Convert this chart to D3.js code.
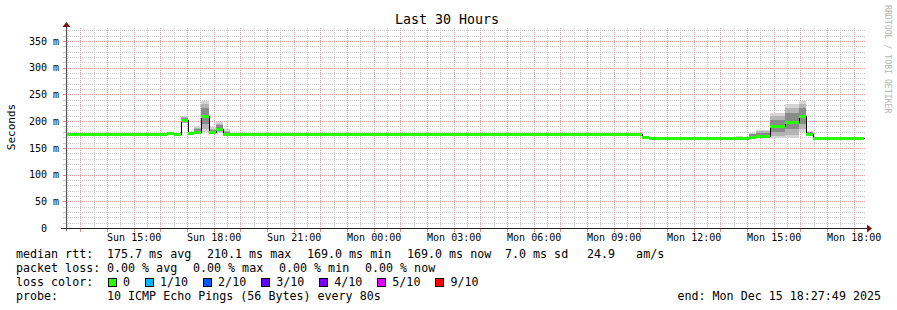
<!DOCTYPE html>
<html>
<head>
<meta charset="utf-8">
<script src="https://cdn.jsdelivr.net/npm/d3@7"></script>
<style>
  body { margin: 0; background: #fff; }
  svg text { font-family: "DejaVu Sans Mono", monospace; white-space: pre; }
</style>
</head>
<body>
<div id="chart"></div>
<script>
// interval boundaries (local time), each value holds until the next boundary
const times = [
  '2025-12-14T12:28', '2025-12-14T14:38', '2025-12-14T14:54', '2025-12-14T15:10',
  '2025-12-14T15:26', '2025-12-14T16:15', '2025-12-14T16:31', '2025-12-14T16:47',
  '2025-12-14T17:02', '2025-12-14T17:16', '2025-12-14T17:32', '2025-12-14T17:50',
  '2025-12-14T18:05', '2025-12-14T18:21', '2025-12-14T18:37', '2025-12-15T00:12',
  '2025-12-15T00:28', '2025-12-15T10:04', '2025-12-15T10:20', '2025-12-15T13:35',
  '2025-12-15T13:51', '2025-12-15T14:05', '2025-12-15T14:20', '2025-12-15T14:52',
  '2025-12-15T15:26', '2025-12-15T15:57', '2025-12-15T16:13', '2025-12-15T16:29',
  '2025-12-15T18:23'
]
// median rtt in ms
const median = [175, 175, 175, 175, 175, 178, 175, 202, 177.5, 180, 209.7, 179, 185, 176.6,
  175, 175, 175, 171, 169, 169, 169, 171, 172, 191, 199, 209.7, 176.6, 169]
// smoke (min..max of the pings) in ms
const smokeLow = [null, 175, null, 175, null, 176, null, 196, 175, 176, 180, 176, 178, 175,
  null, 175, null, null, null, 169, null, 169, 168, 168, 168, 179, 175, null]
const smokeHigh = [null, 177.5, null, 177.5, null, 179, null, 210, 181, 191, 238, 189, 198, 185,
  null, 177.5, null, null, null, 172, null, 178, 183.5, 216, 232, 238, 181.6, null]
// middle and inner parts of the smoke
const midLow = [null, null, null, null, null, null, null, 197, 175.5, 177, 186, 176.5, 179, 175,
  null, null, null, null, null, null, null, 169.5, 169, 172, 174, 186, 175.5, null]
const midHigh = [null, null, null, null, null, null, null, 208, 180, 188, 232, 186, 195, 182,
  null, null, null, null, null, null, null, 176, 181, 209, 224, 232, 180.5, null]
const innerLow = [null, null, null, null, null, null, null, 199, 176, 178, 195, 177, 181, 175,
  null, null, null, null, null, null, null, 170, 170, 180, 185, 195, 176, null]
const innerHigh = [null, null, null, null, null, null, null, 206, 179, 186, 225, 184, 192, 180,
  null, null, null, null, null, null, null, 175, 178, 202, 215, 225, 179, null]

const yTicks = [0, 50, 100, 150, 200, 250, 300, 350]
const medianStats = ['175.7 ms avg', '210.1 ms max', '169.0 ms min', '169.0 ms now', '7.0 ms sd', '24.9   am/s']
const lossStats = ['0.00 % avg', '0.00 % max', '0.00 % min', '0.00 % now']
const lossLabels = ['0', '1/10', '2/10', '3/10', '4/10', '5/10', '9/10']
const lossColors = ['#26ff00', '#00b8ff', '#0059ff', '#5e00ff', '#7e00ff', '#dd00ff', '#ff0000']

const parse = d3.timeParse('%Y-%m-%dT%H:%M')
const t = times.map(parse)
const start = new Date(2025, 11, 14, 12, 27, 49)
const end = new Date(2025, 11, 15, 18, 27, 49)

const W = 897, H = 310
const plot = { left: 66, right: 866, top: 28, bottom: 228 }

const svg = d3.select('#chart').append('svg')
  .attr('width', W).attr('height', H)
  .style('display', 'block')

svg.append('rect').attr('width', W).attr('height', H).attr('fill', '#fff')

const x = d3.scaleTime().domain([start, end]).range([plot.left, plot.right])
const y = d3.scaleLinear().domain([0, 374.3]).range([plot.bottom, plot.top])

const px = v => Math.round(v) + 0.5

//grid
const grid = svg.append('g').attr('shape-rendering', 'crispEdges')
const minorY = d3.range(10, 374, 10).filter(v => v % 50 !== 0)
grid.selectAll('.gy').data(minorY).join('line')
  .attr('x1', plot.left).attr('x2', plot.right)
  .attr('y1', d => px(y(d))).attr('y2', d => px(y(d)))
  .attr('stroke', '#c8c8c8').attr('stroke-dasharray', '1,1')
const halfHours = d3.timeMinute.every(30).range(start, end).filter(d => d.getMinutes() === 30)
grid.selectAll('.gx').data(halfHours).join('line')
  .attr('x1', d => px(x(d))).attr('x2', d => px(x(d)))
  .attr('y1', plot.top).attr('y2', plot.bottom)
  .attr('stroke', '#c8c8c8').attr('stroke-dasharray', '1,1')
const hours = d3.timeHour.range(start, end)
grid.selectAll('.mx').data(hours).join('line')
  .attr('x1', d => px(x(d))).attr('x2', d => px(x(d)))
  .attr('y1', plot.top).attr('y2', plot.bottom)
  .attr('stroke', '#f29a9a').attr('stroke-dasharray', '1,1')
grid.selectAll('.my').data(yTicks.filter(v => v > 0)).join('line')
  .attr('x1', plot.left).attr('x2', plot.right)
  .attr('y1', d => px(y(d))).attr('y2', d => px(y(d)))
  .attr('stroke', '#f29a9a').attr('stroke-dasharray', '1,1')

//smoke, three shades from outside to inside
const idx = d3.range(median.length)
const smoke = svg.append('g').attr('shape-rendering', 'crispEdges')
const bands = [
  [smokeLow, smokeHigh, '#d4d4d4'],
  [midLow, midHigh, '#b4b4b4'],
  [innerLow, innerHigh, '#8a8a8a']
]
bands.forEach(([lo, hi, col]) => {
  smoke.append('g').selectAll('rect').data(idx.filter(i => lo[i] !== null)).join('rect')
    .attr('x', i => Math.round(x(t[i])))
    .attr('width', i => Math.round(x(t[i + 1])) - Math.round(x(t[i])))
    .attr('y', i => Math.round(y(hi[i])))
    .attr('height', i => Math.round(y(lo[i])) - Math.round(y(hi[i])))
    .attr('fill', col)
})

//median: thin black step line, then green 3px segments
const pts = idx.map(i => [t[i], median[i]]).concat([[t[t.length - 1], median[median.length - 1]]])
const line = d3.line()
  .x(d => px(x(d[0])))
  .y(d => px(y(d[1])))
  .curve(d3.curveStepAfter)
svg.append('path').datum(pts)
  .attr('d', line)
  .attr('fill', 'none').attr('stroke', '#000').attr('stroke-width', 1)
  .attr('shape-rendering', 'crispEdges')
svg.append('g').attr('shape-rendering', 'crispEdges')
  .selectAll('rect').data(idx).join('rect')
  .attr('x', i => Math.round(x(t[i])))
  .attr('width', i => Math.round(x(t[i + 1])) - Math.round(x(t[i])))
  .attr('y', i => Math.round(y(median[i])) - 1)
  .attr('height', 3)
  .attr('fill', lossColors[0])

//axes lines and ticks
const axes = svg.append('g').attr('shape-rendering', 'crispEdges')
axes.selectAll('.tx').data(hours).join('line')
  .attr('x1', d => px(x(d))).attr('x2', d => px(x(d)))
  .attr('y1', plot.bottom + 1).attr('y2', plot.bottom + 4)
  .attr('stroke', '#f08080')
axes.selectAll('.ty').data(d3.range(10, 374, 10)).join('line')
  .attr('x1', plot.left - 3).attr('x2', plot.left)
  .attr('y1', d => px(y(d))).attr('y2', d => px(y(d)))
  .attr('stroke', d => d % 50 === 0 ? '#f08080' : '#c8c8c8')
axes.append('line')
  .attr('x1', plot.left - 5).attr('x2', plot.right + 1)
  .attr('y1', px(plot.bottom)).attr('y2', px(plot.bottom))
  .attr('stroke', '#222')
axes.append('line')
  .attr('x1', px(plot.left)).attr('x2', px(plot.left))
  .attr('y1', plot.bottom + 3).attr('y2', plot.top - 3)
  .attr('stroke', '#555')
svg.append('path')
  .attr('d', `M${plot.right + 1},${plot.bottom - 3.5} L${plot.right + 6},${plot.bottom + 0.5} L${plot.right + 1},${plot.bottom + 4.5}Z`)
  .attr('fill', '#7f1010')
svg.append('path')
  .attr('d', `M${plot.left - 3.5},${plot.top - 1} L${plot.left + 0.5},${plot.top - 6} L${plot.left + 4.5},${plot.top - 1}Z`)
  .attr('fill', '#7f1010')

//tick labels
const xAxis = d3.axisBottom(x)
  .tickValues(d3.timeHour.every(3).range(start, end))
  .tickFormat(d3.timeFormat('%a %H:%M'))
  .tickSize(0).tickPadding(6)
svg.append('g').attr('transform', `translate(0,${plot.bottom})`)
  .call(xAxis)
  .call(g => g.select('.domain').remove())
  .selectAll('text').attr('font-size', 10).attr('fill', '#000')
  .style('font-family', '"DejaVu Sans Mono", monospace')

const yAxis = d3.axisLeft(y)
  .tickValues(yTicks)
  .tickFormat(d => d === 0 ? '0' : d + ' m')
  .tickSize(0).tickPadding(7)
const yAxisGroup = svg.append('g').attr('transform', `translate(${plot.left},0)`)
  .call(yAxis)
  .call(g => g.select('.domain').remove())
yAxisGroup.selectAll('text').attr('font-size', 10).attr('fill', '#000')
  .style('font-family', '"DejaVu Sans Mono", monospace')
// rrdtool pads the zero label with the blank unit, so it sits two chars further left
yAxisGroup.selectAll('.tick').filter(d => +d === 0).select('text').attr('x', -19)

//titles
svg.append('text').attr('x', 447).attr('y', 24)
  .attr('text-anchor', 'middle').attr('font-size', 13.3)
  .text('Last 30 Hours')
svg.append('text')
  .attr('transform', `translate(15,127) rotate(-90)`)
  .attr('text-anchor', 'middle').attr('font-size', 11)
  .text('Seconds')
svg.append('text')
  .attr('transform', `translate(885,5) rotate(90)`)
  .attr('font-size', 8.2).attr('fill', '#b4b4b4')
  .text('RRDTOOL / TOBI OETIKER')

//legend
const lg = svg.append('g').attr('font-size', 11.66).attr('fill', '#000')
const rowY = [258, 272, 286, 300]
lg.append('text').attr('x', 16).attr('y', rowY[0]).text('median rtt:')
const statX = [107, 207, 307, 407, 505, 587]
lg.selectAll('.ms').data(medianStats).join('text')
  .attr('x', (d, i) => statX[i]).attr('y', rowY[0]).text(d => d)
lg.append('text').attr('x', 16).attr('y', rowY[1]).text('packet loss:')
const lossX = [107, 193, 279, 365]
lg.selectAll('.ls').data(lossStats).join('text')
  .attr('x', (d, i) => lossX[i]).attr('y', rowY[1]).text(d => d)
lg.append('text').attr('x', 16).attr('y', rowY[2]).text('loss color:')
let bx = 108.5
lossLabels.forEach((lab, i) => {
  lg.append('rect').attr('x', bx).attr('y', 278.5).attr('width', 8).attr('height', 8)
    .attr('fill', lossColors[i]).attr('stroke', '#000').attr('shape-rendering', 'crispEdges')
  lg.append('text').attr('x', bx + 14.5).attr('y', rowY[2]).text(lab)
  bx += 14.5 + lab.length * 7.02 + 15.5
})
lg.append('text').attr('x', 16).attr('y', rowY[3]).text('probe:')
lg.append('text').attr('x', 107).attr('y', rowY[3]).text('10 ICMP Echo Pings (56 Bytes) every 80s')
lg.append('text').attr('x', 881).attr('y', rowY[3]).attr('text-anchor', 'end')
  .text('end: Mon Dec 15 18:27:49 2025')
</script>
</body>
</html>
